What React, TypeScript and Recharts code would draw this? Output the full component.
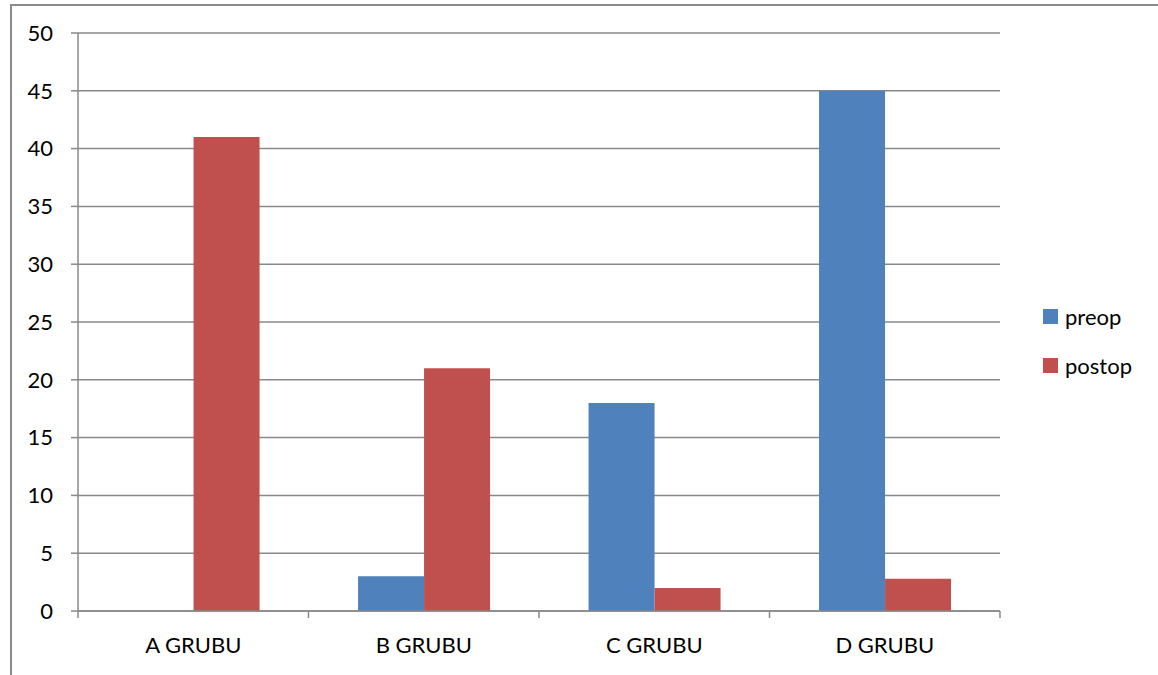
import { BarChart, Bar, XAxis, YAxis, CartesianGrid, Legend } from "recharts";

const groups = ["A GRUBU", "B GRUBU", "C GRUBU", "D GRUBU"];
const preop = [0, 3, 18, 45];
const postop = [41, 21, 2, 2.8];
const yTicks = [0, 5, 10, 15, 20, 25, 30, 35, 40, 45, 50];

const series = [
  { key: "preop", color: "#4F81BD" },
  { key: "postop", color: "#C0504D" },
];

const data = groups.map((g, i) => ({ name: g, preop: preop[i], postop: postop[i] }));

const FONT = "Lato, 'Open Sans', sans-serif";
const GRID = "#898989";

function GroupTick(props: any) {
  const { x, y, payload, index } = props;
  const half = payload?.offset ?? 115.25;
  return (
    <g>
      <line x1={x - half} x2={x - half} y1={y} y2={y + 7} stroke={GRID} strokeWidth={1.5} />
      {index === groups.length - 1 && (
        <line x1={x + half} x2={x + half} y1={y} y2={y + 7} stroke={GRID} strokeWidth={1.5} />
      )}
      <text x={x} y={y + 42} textAnchor="middle" fontSize={22} fontFamily={FONT} fill="#000">
        {payload.value}
      </text>
    </g>
  );
}

function LegendBox() {
  return (
    <div style={{ fontFamily: FONT, fontSize: 22, color: "#000" }}>
      {series.map((s) => (
        <div key={s.key} style={{ display: "flex", alignItems: "center", height: 28, marginBottom: 21 }}>
          <span style={{ width: 15, height: 15, background: s.color, display: "inline-block", marginRight: 7 }} />
          <span>{s.key}</span>
        </div>
      ))}
    </div>
  );
}

export default function App() {
  return (
    <div style={{ position: "absolute", left: 0, top: 0, width: 1158, height: 675, background: "#fff" }}>
      <div
        style={{
          position: "absolute",
          left: 10,
          top: 4,
          right: 0,
          bottom: 0,
          borderTop: "2px solid #8a8a8a",
          borderLeft: "2px solid #8a8a8a",
        }}
      />
      <BarChart
        width={1158}
        height={675}
        data={data}
        margin={{ top: 33, right: 158, bottom: 0, left: 0 }}
        barCategoryGap="21.5%"
        barGap={0}
        style={{ position: "absolute", left: 0, top: 0 }}
      >
        <CartesianGrid vertical={false} stroke={GRID} strokeWidth={1.5} />
        <XAxis
          dataKey="name"
          height={64}
          tickLine={false}
          tickSize={0}
          tickMargin={0}
          interval={0}
          axisLine={{ stroke: GRID, strokeWidth: 1.5 }}
          tick={<GroupTick />}
        />
        <YAxis
          width={78}
          domain={[0, 50]}
          ticks={yTicks}
          interval={0}
          tickSize={7}
          tickMargin={18}
          axisLine={{ stroke: GRID, strokeWidth: 1.5 }}
          tickLine={{ stroke: GRID, strokeWidth: 1.5 }}
          tick={{ fontSize: 22, fontFamily: FONT, fill: "#000" }}
        />
        <Legend
          layout="vertical"
          align="center"
          verticalAlign="middle"
          wrapperStyle={{ left: 1043, top: 302, width: 110 }}
          content={<LegendBox />}
        />
        {series.map((s) => (
          <Bar key={s.key} dataKey={s.key} fill={s.color} isAnimationActive={false} />
        ))}
      </BarChart>
    </div>
  );
}
